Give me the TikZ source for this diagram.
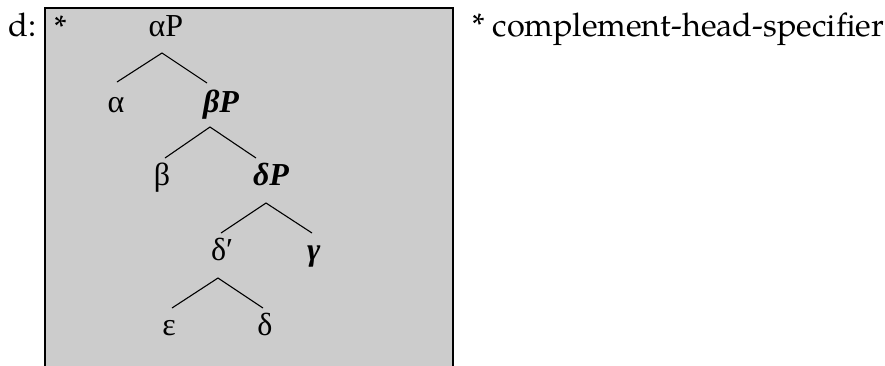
\documentclass[tikz,border=0pt]{standalone}
\usepackage{fontspec}
\setmainfont{TeX Gyre Pagella}
\newfontfamily\treefont{Liberation Serif}
\definecolor{boxgray}{HTML}{CCCCCC}
\begin{document}
\begin{tikzpicture}[x=1pt,y=-1pt,
  lbl/.style={inner sep=0pt,outer sep=0pt,font=\fontsize{32.5}{36}\selectfont},
  tlbl/.style={inner sep=0pt,outer sep=0pt,font=\treefont\fontsize{32}{36}\selectfont},
  branch/.style={line width=1.1pt}]
\useasboundingbox (0,0) rectangle (885,365);
\fill[boxgray] (45,8) rectangle (453,380);
\draw[line width=2pt] (45,380) -- (45,8) -- (453,8) -- (453,380);
\node[lbl,anchor=base west] (d) at (9,36) {d:};
\node[lbl,anchor=base west] (note) at (472,36) {* complement-head-specifier};
\node[lbl,anchor=base west] (star) at (54,38) {*};
% tree
\node[tlbl,anchor=base] (aP) at (166,36) {αP};
\node[tlbl,anchor=base] (a) at (116,112) {α};
\node[tlbl,anchor=base west] (bP) at (203,112) {\bfseries\itshape βP};
\node[tlbl,anchor=base] (b) at (162,185) {β};
\node[tlbl,anchor=base west] (dP) at (253,185) {\bfseries\itshape δP};
\node[tlbl,anchor=base west] (dbar) at (211,260) {δ′};
\node[tlbl,anchor=base west] (g) at (307,260) {\bfseries\itshape γ};
\node[tlbl,anchor=base] (e) at (169,335) {ε};
\node[tlbl,anchor=base] (dd) at (265,335) {δ};
% branches
\draw[branch] ([shift={(1,-30)}]a.base) -- ([shift={(-4,17)}]aP.base) -- ([shift={(4,-29)}]bP.base west);
\draw[branch] ([shift={(3,-27)}]b.base) -- ([shift={(7,15)}]bP.base west) -- ([shift={(3,-27)}]dP.base west);
\draw[branch] ([shift={(10,-27)}]dbar.base west) -- ([shift={(13,18)}]dP.base west) -- ([shift={(5,-27)}]g.base west);
\draw[branch] ([shift={(3,-27)}]e.base) -- ([shift={(7,18)}]dbar.base west) -- ([shift={(-2,-27)}]dd.base);
\end{tikzpicture}
\end{document}
